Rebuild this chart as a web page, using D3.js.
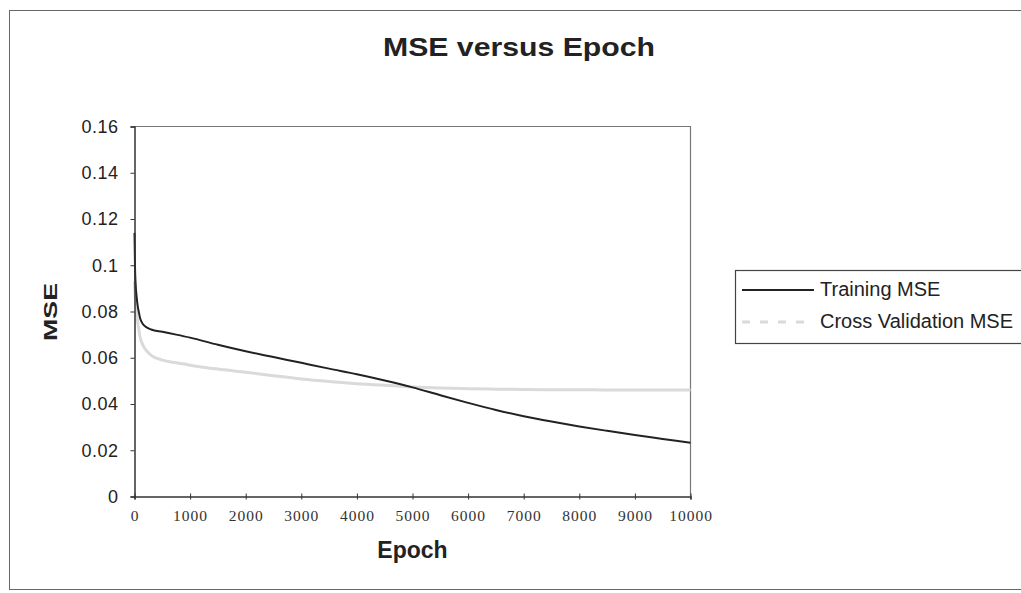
<!DOCTYPE html>
<html>
<head>
<meta charset="utf-8">
<script src="https://cdn.jsdelivr.net/npm/d3@7"></script>
<style>
  html, body { margin: 0; padding: 0; background: #fff; }
  svg { display: block; }
</style>
</head>
<body>
<svg id="chart" width="1021" height="593"></svg>
<script>
// Training run: mean squared error per epoch
const epochs = [0, 10, 20, 40, 60, 80, 100, 150, 200, 300, 500, 750, 1000, 1500, 2000, 2500,
  3000, 3500, 4000, 4500, 5000, 5500, 6000, 6500, 7000, 7500, 8000, 8500, 9000, 9500, 10000];

const trainingMSE = [0.114, 0.098, 0.092, 0.086, 0.082, 0.0795, 0.0772, 0.0746, 0.0734, 0.0722,
  0.0712, 0.0700, 0.0687, 0.0656, 0.0628, 0.0603, 0.0578, 0.0553, 0.0529, 0.0502, 0.0472,
  0.0438, 0.0405, 0.0374, 0.0347, 0.0324, 0.0303, 0.0284, 0.0266, 0.0249, 0.0232];

const crossValidationMSE = [0.093, 0.088, 0.084, 0.079, 0.075, 0.072, 0.069, 0.0655, 0.0635,
  0.0610, 0.0590, 0.0578, 0.0568, 0.0551, 0.0537, 0.0522, 0.0508, 0.0497, 0.0488, 0.0481,
  0.0474, 0.0469, 0.0466, 0.0464, 0.0463, 0.0462, 0.0462, 0.0461, 0.0461, 0.0461, 0.0461];

const yTickValues = [0, 0.02, 0.04, 0.06, 0.08, 0.1, 0.12, 0.14, 0.16];
const yTickLabels = ["0", "0.02", "0.04", "0.06", "0.08", "0.1", "0.12", "0.14", "0.16"];
const xTickValues = [0, 1000, 2000, 3000, 4000, 5000, 6000, 7000, 8000, 9000, 10000];
const xTickLabels = ["0", "1000", "2000", "3000", "4000", "5000", "6000", "7000", "8000", "9000", "10000"];

const seriesNames = ["Training MSE", "Cross Validation MSE"];

const svg = d3.select("#chart");
const sans = "'Liberation Sans', Arial, Helvetica, sans-serif";
const serif = "'Liberation Serif', 'Times New Roman', serif";
const ink = "#222";

// outer chart frame
svg.append("rect")
  .attr("x", 9.5).attr("y", 10.5)
  .attr("width", 1030).attr("height", 579)
  .attr("fill", "#fff")
  .attr("stroke", "#666").attr("stroke-width", 1);

// plot area
const plot = { left: 134.5, right: 690.5, top: 126.5, bottom: 496.5 };

const x = d3.scaleLinear().domain([0, 10000]).range([plot.left, plot.right]);
const y = d3.scaleLinear().domain([0, 0.16]).range([plot.bottom, plot.top]);

// top and right frame of the plot area
svg.append("path")
  .attr("d", `M${plot.left},${plot.top}H${plot.right}V${plot.bottom}`)
  .attr("fill", "none")
  .attr("stroke", "#777").attr("stroke-width", 1.2);

// series lines
const line = (vals) => d3.line()
  .curve(d3.curveMonotoneX)
  .x((d, i) => x(epochs[i]))
  .y(d => y(d))(vals);

svg.append("path")
  .attr("d", line(crossValidationMSE))
  .attr("fill", "none")
  .attr("stroke", "#dadada").attr("stroke-width", 3)
  .attr("stroke-linejoin", "round");

svg.append("path")
  .attr("d", line(trainingMSE))
  .attr("fill", "none")
  .attr("stroke", ink).attr("stroke-width", 2)
  .attr("stroke-linejoin", "round");

// y axis
const yAxis = svg.append("g")
  .attr("transform", `translate(${plot.left},0)`)
  .call(d3.axisLeft(y)
    .tickValues(yTickValues)
    .tickFormat((d, i) => yTickLabels[i])
    .tickSize(4)
    .tickPadding(12));
yAxis.select(".domain").attr("stroke", "#333").attr("stroke-width", 1.5);
yAxis.selectAll(".tick line").attr("stroke", "#333");
yAxis.selectAll(".tick text")
  .attr("fill", ink)
  .style("font-family", sans)
  .style("font-size", "18px")
  .style("letter-spacing", "0.5px");

// x axis
const xAxis = svg.append("g")
  .attr("transform", `translate(0,${plot.bottom})`)
  .call(d3.axisBottom(x)
    .tickValues(xTickValues)
    .tickFormat((d, i) => xTickLabels[i])
    .tickSizeOuter(0)
    .tickSize(3)
    .tickPadding(10.5));
xAxis.select(".domain").attr("stroke", "#333").attr("stroke-width", 1.5);
xAxis.selectAll(".tick line").attr("stroke", "#333").attr("y1", -3);
xAxis.selectAll(".tick text")
  .attr("fill", "#333")
  .style("font-family", serif)
  .style("font-size", "15.5px")
  .style("letter-spacing", "1px");

// title and axis titles
svg.append("text")
  .attr("x", 519).attr("y", 56)
  .attr("text-anchor", "middle")
  .attr("textLength", 272).attr("lengthAdjust", "spacingAndGlyphs")
  .style("font-family", sans).style("font-weight", "bold").style("font-size", "25px")
  .attr("fill", ink)
  .text("MSE versus Epoch");

svg.append("text")
  .attr("transform", "translate(56.5,312) rotate(-90)")
  .attr("text-anchor", "middle")
  .attr("textLength", 58).attr("lengthAdjust", "spacingAndGlyphs")
  .style("font-family", sans).style("font-weight", "bold").style("font-size", "19px")
  .attr("fill", ink)
  .text("MSE");

svg.append("text")
  .attr("x", 412.5).attr("y", 558)
  .attr("text-anchor", "middle")
  .style("font-family", sans).style("font-weight", "bold").style("font-size", "23px")
  .attr("fill", ink)
  .text("Epoch");

// legend
const legend = svg.append("g");
legend.append("rect")
  .attr("x", 735.5).attr("y", 270.5)
  .attr("width", 300).attr("height", 73)
  .attr("fill", "#fff")
  .attr("stroke", "#444").attr("stroke-width", 1.2);

const legendRows = [
  { name: seriesNames[0], color: ink, width: 2, dash: null, y: 290 },
  { name: seriesNames[1], color: "#dadada", width: 3, dash: "8,10", y: 322 }
];
legendRows.forEach(r => {
  legend.append("line")
    .attr("x1", 742).attr("x2", 814)
    .attr("y1", r.y).attr("y2", r.y)
    .attr("stroke", r.color).attr("stroke-width", r.width)
    .attr("stroke-dasharray", r.dash);
  legend.append("text")
    .attr("x", 820).attr("y", r.y + 5.5)
    .style("font-family", sans).style("font-size", "20px")
    .attr("fill", ink)
    .text(r.name);
});
</script>
</body>
</html>
